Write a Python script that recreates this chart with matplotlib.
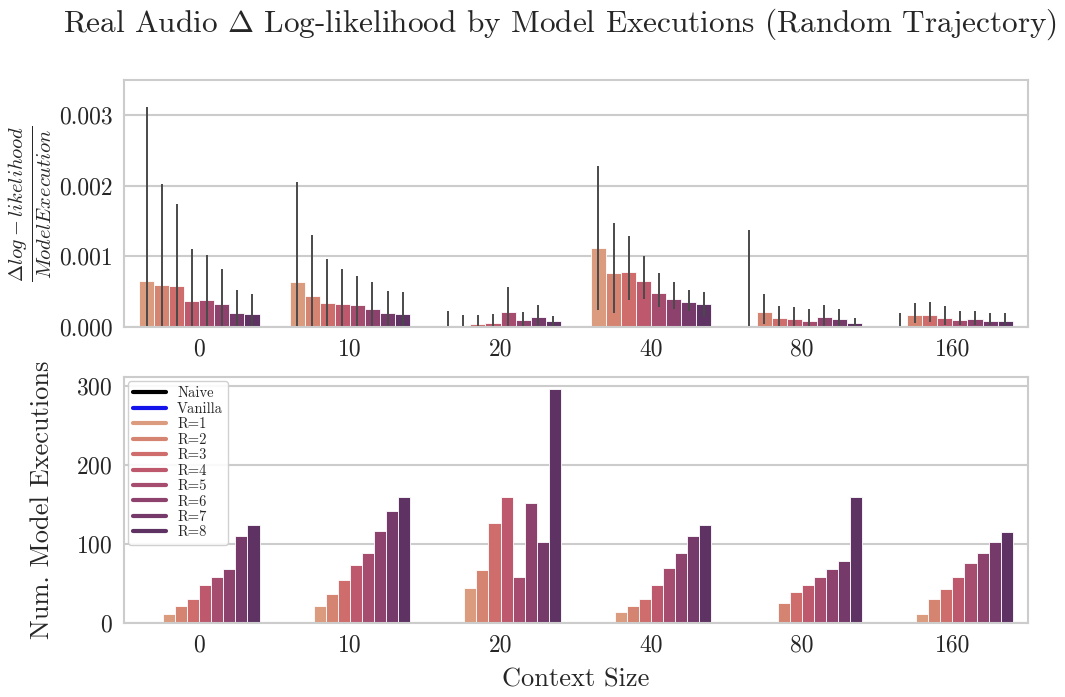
import numpy as np
import matplotlib
matplotlib.use("Agg")
import matplotlib.pyplot as plt
import seaborn as sns
from matplotlib.lines import Line2D
from matplotlib.ticker import MultipleLocator, FormatStrFormatter

sns.set_style("whitegrid")
plt.rcParams["font.family"] = ["cmr10"]
plt.rcParams["mathtext.fontset"] = "cm"
plt.rcParams["axes.formatter.use_mathtext"] = True

contexts = ["0", "10", "20", "40", "80", "160"]
r_labels = ["R=1", "R=2", "R=3", "R=4", "R=5", "R=6", "R=7", "R=8"]
all_labels = ["Naive", "Vanilla"] + r_labels

# top panel: delta log-likelihood per model execution (units of 1e-3), rows = R, cols = context
dll_mean = np.array([
    [0.65, 0.63, 0.00, 1.12, 0.00, 0.00],
    [0.60, 0.44, 0.00, 0.76, 0.21, 0.17],
    [0.58, 0.34, 0.04, 0.78, 0.13, 0.17],
    [0.37, 0.32, 0.06, 0.65, 0.11, 0.13],
    [0.38, 0.31, 0.21, 0.48, 0.09, 0.10],
    [0.32, 0.26, 0.10, 0.40, 0.14, 0.11],
    [0.20, 0.19, 0.14, 0.36, 0.11, 0.09],
    [0.18, 0.18, 0.09, 0.33, 0.05, 0.09],
]) * 1e-3
dll_lo = np.array([
    [0.00, 0.00, 0.00, 0.24, 0.00, 0.00],
    [0.00, 0.00, 0.00, 0.19, 0.04, 0.06],
    [0.00, 0.00, 0.00, 0.38, 0.00, 0.07],
    [0.00, 0.00, 0.00, 0.39, 0.00, 0.03],
    [0.00, 0.00, 0.00, 0.28, 0.00, 0.02],
    [0.00, 0.00, 0.00, 0.26, 0.00, 0.02],
    [0.00, 0.00, 0.00, 0.23, 0.00, 0.02],
    [0.00, 0.00, 0.00, 0.14, 0.00, 0.02],
]) * 1e-3
dll_hi = np.array([
    [3.12, 2.06, 0.22, 2.28, 1.37, 0.20],
    [2.03, 1.31, 0.17, 1.47, 0.46, 0.34],
    [1.74, 0.96, 0.17, 1.29, 0.29, 0.35],
    [1.10, 0.82, 0.18, 1.01, 0.28, 0.30],
    [1.02, 0.72, 0.57, 0.76, 0.26, 0.22],
    [0.82, 0.64, 0.21, 0.63, 0.31, 0.22],
    [0.53, 0.51, 0.31, 0.53, 0.25, 0.19],
    [0.46, 0.50, 0.16, 0.50, 0.13, 0.19],
]) * 1e-3

# bottom panel: number of model executions, rows = Naive, Vanilla, R=1..8
executions = np.array([
    [0, 0, 0, 0, 0, 0],
    [0, 0, 0, 0, 0, 0],
    [12, 22, 44, 14, 0, 12],
    [22, 37, 67, 22, 26, 31],
    [31, 54, 126, 30, 39, 43],
    [48, 73, 159, 48, 48, 58],
    [58, 88, 58, 70, 58, 76],
    [68, 117, 152, 89, 68, 89],
    [110, 142, 103, 110, 78, 103],
    [124, 160, 296, 124, 160, 115],
])

# seaborn barplot-style muted colours
r_colors = [sns.desaturate(c, 0.75) for c in sns.color_palette("flare", len(r_labels))]
all_colors = ["black", sns.desaturate("blue", 0.85)] + r_colors

fig = plt.figure(figsize=(10.65, 6.97), dpi=100)
ax1 = fig.add_axes([0.1164, 0.531, 0.8486, 0.354])
ax2 = fig.add_axes([0.1164, 0.106, 0.8486, 0.353])

x = np.arange(len(contexts))
grid_col = "#cccccc"

# top panel
w = 0.8 / len(r_labels)
for i, lab in enumerate(r_labels):
    pos = x - 0.4 + w * (i + 0.5)
    err = [dll_mean[i] - dll_lo[i], dll_hi[i] - dll_mean[i]]
    ax1.bar(pos, dll_mean[i], width=w, color=r_colors[i], edgecolor="white", linewidth=0.6,
            yerr=err, error_kw=dict(ecolor="#4a4a4a", elinewidth=1.4, capsize=0), zorder=2)

ax1.set_ylim(0, 0.0035)
ax1.set_xlim(-0.5, len(contexts) - 0.5)
ax1.yaxis.set_major_locator(MultipleLocator(0.001))
ax1.yaxis.set_major_formatter(FormatStrFormatter("%.3f"))
ax1.set_xticks(x)
ax1.set_xticklabels(contexts)
ax1.set_ylabel(r"$\frac{\Delta log-likelihood}{Model Execution}$", fontsize=21, labelpad=4)

# bottom panel
w2 = 0.8 / len(all_labels)
for i, lab in enumerate(all_labels):
    pos = x - 0.4 + w2 * (i + 0.5)
    vals = executions[i].astype(float)
    ax2.bar(pos, vals, width=w2, color=all_colors[i], edgecolor="white", linewidth=0.6, zorder=2)

ax2.set_xlim(-0.5, len(contexts) - 0.5)
ax2.set_ylim(0, 311)
ax2.yaxis.set_major_locator(MultipleLocator(100))
ax2.set_xticks(x)
ax2.set_xticklabels(contexts)
ax2.set_ylabel("Num. Model Executions", fontsize=19, labelpad=16)
ax2.set_xlabel("Context Size", fontsize=19, labelpad=8)

handles = [Line2D([0], [0], color=c, lw=3) for c in all_colors]
ax2.legend(handles, all_labels, loc="upper left", fontsize=10.5, handlelength=2.2,
           labelspacing=0.12, borderpad=0.35, frameon=True, framealpha=0.9,
           edgecolor=grid_col, borderaxespad=0.3)

for ax in (ax1, ax2):
    ax.grid(axis="x", visible=False)
    ax.grid(axis="y", color=grid_col, linewidth=1.5)
    ax.tick_params(labelsize=17, length=0, pad=8)
    for sp in ax.spines.values():
        sp.set_color(grid_col)
        sp.set_linewidth(1.5)
    ax.set_axisbelow(True)

fig.suptitle(r"Real Audio $\Delta$ Log-likelihood by Model Executions (Random Trajectory)",
             fontsize=22.5, x=0.526, y=0.99)

fig.savefig("out.png", dpi=100)
